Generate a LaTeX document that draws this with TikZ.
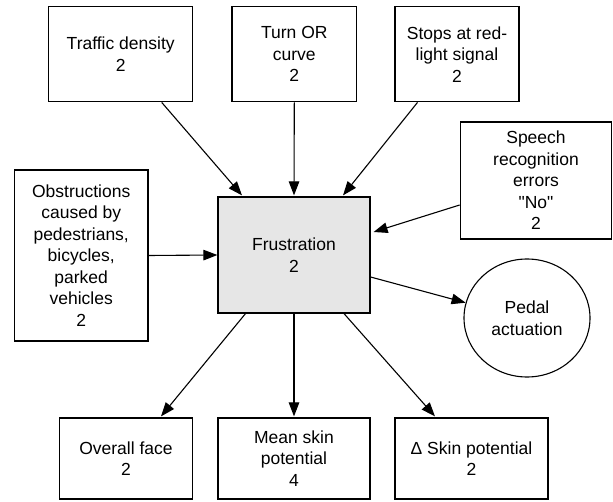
\documentclass[tikz,border=0pt]{standalone}
\usepackage{fontspec}
\setmainfont{Liberation Sans}
\newfontfamily\plainsans{Liberation Sans}
\usetikzlibrary{arrows.meta,shapes.geometric,calc}
\definecolor{frusgray}{RGB}{230,230,230}
\begin{document}
\begin{tikzpicture}[x=1pt,y=-1pt,
  every node/.style={font=\plainsans\fontsize{17.5}{21.5}\selectfont, align=center, inner sep=0pt},
  box/.style={draw=black, line width=1.2pt, rectangle},
  oval/.style={draw=black, line width=1.1pt, ellipse},
  conn/.style={draw=black, line width=1.1pt, -{Triangle[length=14pt,width=10.5pt]}}]
\useasboundingbox (0,0) rectangle (613,502);
\node[box, minimum width=144pt, minimum height=95pt] (traffic) at (120.7,54.3) {Traffic density\\2};
\node[box, minimum width=124.5pt, minimum height=95pt] (turn) at (294.3,54.3) {Turn OR\\curve\\2};
\node[box, minimum width=124pt, minimum height=95pt] (stops) at (457,54.3) {Stops at red-\\light signal\\2};
\node[box, minimum width=151.5pt, minimum height=117pt] (speech) at (536,180.5) {Speech\\recognition\\errors\\"No"\\2};
\node[box, minimum width=133.5pt, minimum height=171pt] (obst) at (81.2,255.5) {Obstructions\\caused by\\pedestrians,\\bicycles,\\parked\\vehicles\\2};
\node[box, fill=frusgray, minimum width=152pt, minimum height=116pt] (frus) at (294,255) {Frustration\\2};
\node[oval, minimum width=126pt, minimum height=118pt] (pedal) at (527,318) {Pedal\\actuation};
\node[box, minimum width=133.3pt, minimum height=81pt] (face) at (126,458.5) {Overall face\\2};
\node[box, minimum width=152pt, minimum height=81pt] (mean) at (294,458.5) {Mean skin\\potential\\4};
\node[box, minimum width=153pt, minimum height=81pt] (delta) at (471.5,458.5) {Δ Skin potential\\2};

\draw[conn] ([xshift=41pt]traffic.south) -- ([xshift=-52pt,yshift=1pt]frus.north);
\draw[conn] (turn.south) -- ([yshift=1pt]frus.north);
\draw[conn] ([xshift=-39.5pt]stops.south) -- ([xshift=49pt,yshift=1pt]frus.north);
\draw[conn] ([yshift=-24.5pt]speech.west) -- ([xshift=3pt,yshift=23pt]frus.east);
\draw[conn] (obst.east) -- (frus.west);
\draw[conn] ([yshift=-22pt]frus.east) -- (pedal.166);
\draw[conn] ([xshift=-48.5pt]frus.south) -- ([xshift=35pt,yshift=1pt]face.north);
\draw[conn] (frus.south) -- ([yshift=1pt]mean.north);
\draw[conn] ([xshift=50pt]frus.south) -- ([xshift=-36.5pt,yshift=1pt]delta.north);
\end{tikzpicture}
\end{document}
